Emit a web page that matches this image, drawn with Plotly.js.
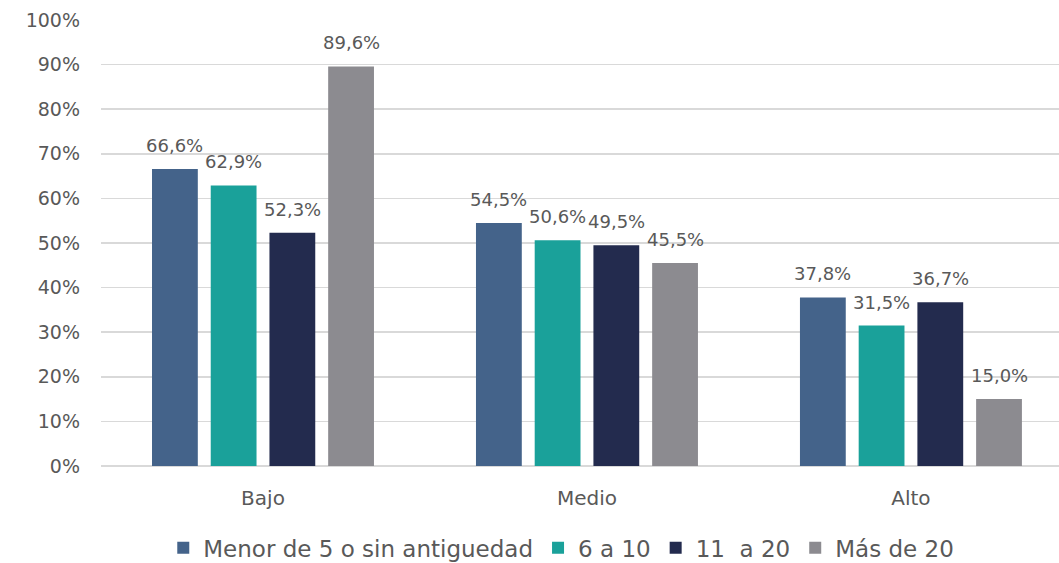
<!DOCTYPE html>
<html>
<head>
<meta charset="utf-8">
<script src="https://cdn.plot.ly/plotly-3.0.1.min.js"></script>
<style>html,body{margin:0;padding:0;background:#fff;overflow:hidden}</style>
</head>
<body>
<div id="chart" style="width:1059px;height:563px"></div>
<script>
const categories = ["Bajo", "Medio", "Alto"];
const seriesNames = ["Menor de 5 o sin antiguedad", "6 a 10", "11  a 20", "Más de 20"];
const menor5 = [0.666, 0.545, 0.378];
const de6a10 = [0.629, 0.506, 0.315];
const de11a20 = [0.523, 0.495, 0.367];
const mas20 = [0.896, 0.455, 0.150];
const tickVals = [0, 0.1, 0.2, 0.3, 0.4, 0.5, 0.6, 0.7, 0.8, 0.9, 1.0];
const colors = ["#44638A", "#1AA19A", "#232B4E", "#8C8B90"];

const allSeries = [menor5, de6a10, de11a20, mas20];
const font = "DejaVu Sans, sans-serif";
const txtColor = "#595959";

const W = 1059, H = 563;
const margin = {l: 101, r: 0, t: 20, b: 97};
const xRange = [-0.5, 2.457];
const bargap = 0.275;
const nSeries = allSeries.length;

const traces = allSeries.map((vals, i) => ({
  type: "bar",
  name: seriesNames[i],
  x: categories,
  y: vals,
  marker: {color: colors[i]},
  hoverinfo: "none"
}));

// value labels placed above each bar via the axis scales
const pxPerCat = (W - margin.l - margin.r) / (xRange[1] - xRange[0]);
const slotPx = pxPerCat * (1 - bargap) / nSeries;
const fmt = v => (v * 100).toFixed(1).replace(".", ",") + "%";
const annotations = [];
allSeries.forEach((vals, i) => {
  vals.forEach((v, j) => {
    annotations.push({
      x: categories[j], y: v, xref: "x", yref: "y",
      text: fmt(v), showarrow: false,
      xanchor: "center", yanchor: "bottom",
      xshift: (i - (nSeries - 1) / 2) * slotPx,
      yshift: 11,
      font: {family: font, size: 18, color: txtColor}
    });
  });
});

const layout = {
  width: W, height: H,
  margin: margin,
  paper_bgcolor: "#fff", plot_bgcolor: "#fff",
  separators: ",.",
  barmode: "group",
  bargap: bargap,
  bargroupgap: 0.22,
  showlegend: true,
  annotations: annotations,
  legend: {
    orientation: "h", xref: "container", x: 0.53, xanchor: "center",
    yref: "container", y: 0.027, yanchor: "middle",
    font: {family: font, size: 23, color: txtColor},
    itemwidth: 30, tracegroupgap: 0, traceorder: "normal"
  },
  xaxis: {
    type: "category",
    range: xRange,
    showgrid: false, zeroline: false, showline: false, ticks: "",
    ticklabelstandoff: 18,
    tickfont: {family: font, size: 20, color: txtColor}
  },
  yaxis: {
    range: [0, 1],
    tickvals: tickVals,
    tickformat: ".0%",
    showgrid: true, gridcolor: "#D9D9D9", gridwidth: 1.5,
    zeroline: true, zerolinecolor: "#D9D9D9", zerolinewidth: 1.5,
    showline: false, ticks: "", ticklen: 0,
    ticklabelstandoff: 20,
    tickfont: {family: font, size: 19, color: txtColor},
    automargin: false
  }
};

Plotly.newPlot("chart", traces, layout, {displayModeBar: false, staticPlot: true});
</script>
</body>
</html>
